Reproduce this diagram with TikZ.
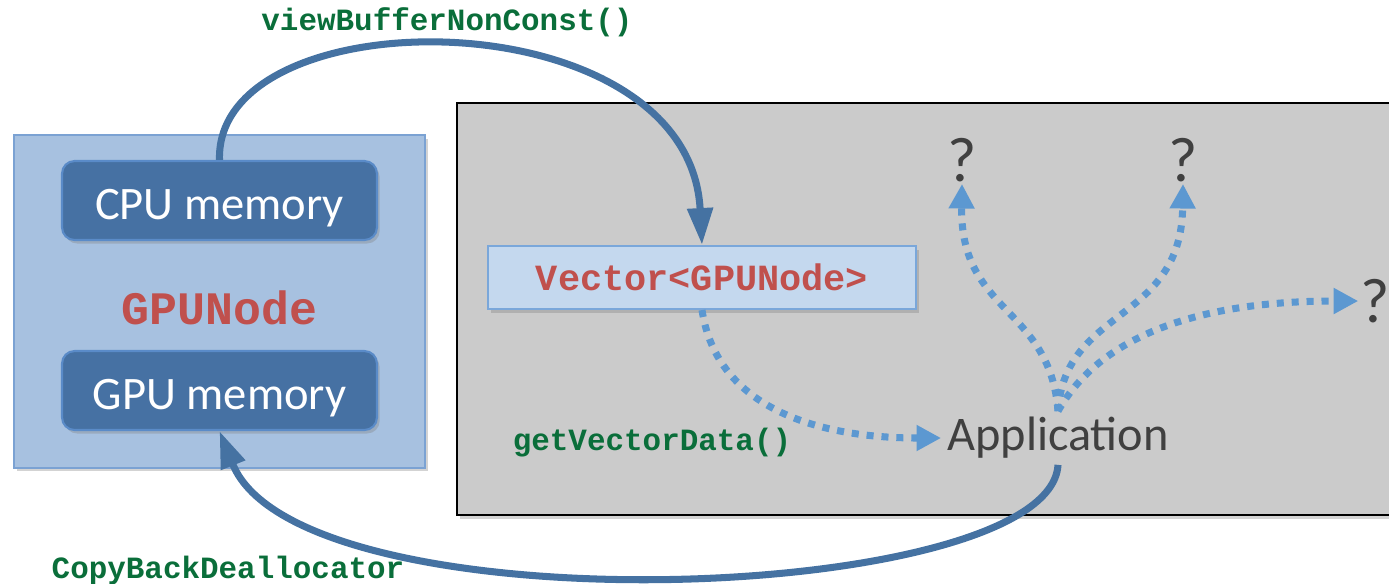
\documentclass[tikz,border=0pt]{standalone}
\usepackage{fontspec}
\setmainfont{Carlito}
\setmonofont{Liberation Mono}
\usetikzlibrary{arrows.meta, shadows}

\definecolor{nodebg}{HTML}{A7C1E0}
\definecolor{nodeedge}{HTML}{7BA2D3}
\definecolor{memblue}{HTML}{4671A3}
\definecolor{memedge}{HTML}{5A8BC8}
\definecolor{vecbg}{HTML}{C4D8EE}
\definecolor{vecedge}{HTML}{7AA7DA}
\definecolor{stagegray}{HTML}{CBCBCB}
\definecolor{codered}{HTML}{C0504D}
\definecolor{codegreen}{HTML}{0A6E3A}
\definecolor{arrowblue}{HTML}{4572A2}
\definecolor{dotblue}{HTML}{5C98D1}
\definecolor{darktext}{HTML}{404040}

\begin{document}
\begin{tikzpicture}[x=0.02cm, y=-0.02cm,
  memory/.style={draw=memedge, line width=1.2pt, fill=memblue,
    rounded corners=0.25cm, minimum width=6.3cm, minimum height=1.58cm,
    text height=22pt, text depth=0pt,
    text=white, font=\fontsize{26.5}{30}\selectfont,
    drop shadow={opacity=0.35, shadow xshift=1.5pt, shadow yshift=-2pt}},
  code/.style={font=\ttfamily\bfseries\fontsize{17.6}{20}\selectfont,
    text=codegreen},
  qmark/.style={text=darktext, inner sep=1pt,
    font=\fontsize{36}{40}\selectfont},
  callarrow/.style={draw=arrowblue, line width=4pt,
    -{Triangle[length=21pt, width=14pt]}},
  dotarrow/.style={draw=dotblue, line width=4pt,
    dash pattern=on 4pt off 4.5pt, -{Triangle[length=14pt, width=14pt]}}]
  \clip (0,0) rectangle (1389,583);

  % GPUNode with its two memories
  \node[draw=nodeedge, line width=1.2pt, fill=nodebg,
        minimum width=8.22cm, minimum height=6.66cm,
        drop shadow={opacity=0.35, shadow xshift=1.5pt, shadow yshift=-2pt}]
        (gpunode) at (219.5,301.5) {};
  \node[memory] (cpumem) at (219.5,200.5) {CPU memory};
  \node[memory] (gpumem) at (219.5,390.5) {GPU memory};
  \node[font=\ttfamily\bfseries\fontsize{26.5}{30}\selectfont, text=codered]
        (gpuname) at (219.5,308) {GPUNode};

  % application side
  \draw[fill=stagegray, line width=1.4pt,
        drop shadow={opacity=0.35, shadow xshift=1.5pt, shadow yshift=-2pt}]
        (457,103) rectangle (1430,515);
  \node[draw=vecedge, line width=1.2pt, fill=vecbg,
        minimum width=8.56cm, minimum height=1.26cm,
        font=\ttfamily\bfseries\fontsize{21}{24}\selectfont, text=codered,
        drop shadow={opacity=0.35, shadow xshift=1.5pt, shadow yshift=-2pt}]
        (vec) at (702,277.5) {Vector<GPUNode>};
  \node[text=darktext, font=\fontsize{27.5}{30}\selectfont] (app) at (1058,438) {Application};
  \node[qmark] (q1) at (962,160) {?};
  \node[qmark] (q2) at (1183,160) {?};
  \node[qmark] (q3) at (1375,301) {?};

  % calls
  \node[code] (viewbuf) at (447,22) {viewBufferNonConst()};
  \node[code] (getdata) at (652,443) {getVectorData()};
  \node[code] (copyback) at (228,570) {CopyBackDeallocator};

  \draw[callarrow] (cpumem.north) .. controls +(-5,-165) and +(-13,-250) .. (vec.north);
  \draw[callarrow] (app.south) .. controls +(-8,140) and +(80,200) .. (gpumem.south);

  \draw[dotarrow] (vec.south) .. controls +(15,100) and +(-120,0) .. (app.west);
  \draw[dotarrow] (app.north) .. controls +(-8,-105) and +(-2,130) .. (q1.south);
  \draw[dotarrow] (app.north) .. controls +(7,-105) and +(-2,140) .. (q2.south);
  \draw[dotarrow] (app.north) .. controls +(42,-75) and +(-160,0) .. (q3.west);
\end{tikzpicture}
\end{document}
